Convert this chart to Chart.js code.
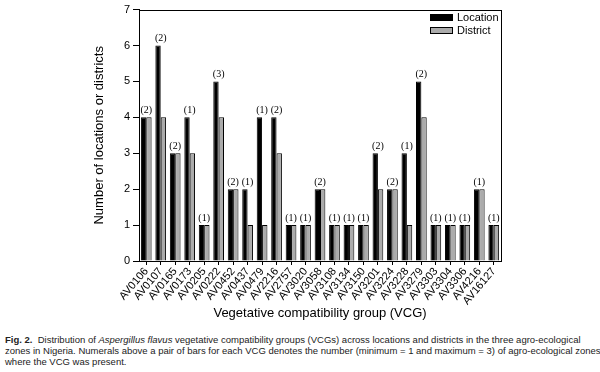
<!DOCTYPE html>
<html>
<head>
<meta charset="utf-8">
<script src="https://cdn.jsdelivr.net/npm/chart.js@4"></script>
<style>
  html, body { margin:0; padding:0; background:#fff; }
  #wrap { position:relative; width:600px; height:372px; overflow:hidden; }
  #c { position:absolute; left:0; top:0; }
  #cap { position:absolute; left:5px; top:334px; font-family:"Liberation Sans", Arial, sans-serif;
         font-size:9.5px; line-height:11px; color:#222; white-space:nowrap; }
  #cap span { display:block; white-space:nowrap; }
</style>
</head>
<body>
<div id="wrap">
  <canvas id="c" width="600" height="325"></canvas>
  <div id="cap"><span><b>Fig. 2.</b>&nbsp; Distribution of <i>Aspergillus flavus</i> vegetative compatibility groups (VCGs) across locations and districts in the three agro-ecological</span><span>zones in Nigeria. Numerals above a pair of bars for each VCG denotes the number (minimum = 1 and maximum = 3) of agro-ecological zones</span><span>where the VCG was present.</span></div>
</div>
<script>
const vcgLabels = ["AV0106","AV0107","AV0165","AV0173","AV0205","AV0222","AV0452","AV0437","AV0479","AV2216",
                   "AV2757","AV3020","AV3058","AV3108","AV3134","AV3150","AV3201","AV3224","AV3228","AV3279",
                   "AV3303","AV3304","AV3306","AV4216","AV16127"];
const locationCounts = [4,6,3,4,1,5,2,2,4,4, 1,1,2,1,1,1,3,2,3,5, 1,1,1,2,1];
const districtCounts = [4,4,3,3,1,4,2,1,1,3, 1,1,2,1,1,1,2,2,1,4, 1,1,1,2,1];
const zoneCounts     = [2,2,2,1,1,3,2,1,1,2, 1,1,2,1,1,1,2,2,1,2, 1,1,1,1,1];
const yTicks = [0,1,2,3,4,5,6,7];

const sans = '"Liberation Sans", Arial, sans-serif';

const overlay = {
  id: 'overlay',
  afterDatasetsDraw(chart) {
    const ctx = chart.ctx;
    const a = chart.chartArea;
    ctx.save();
    // frame
    ctx.strokeStyle = '#000';
    ctx.lineWidth = 1;
    ctx.strokeRect(Math.round(a.left) + 0.5, Math.round(a.top) + 0.5, Math.round(a.right - a.left), Math.round(a.bottom - a.top));
    // zone counts
    const m0 = chart.getDatasetMeta(0), m1 = chart.getDatasetMeta(1);
    ctx.fillStyle = '#000';
    ctx.font = '10px "Liberation Serif", "Times New Roman", serif';
    ctx.textAlign = 'center';
    ctx.textBaseline = 'bottom';
    zoneCounts.forEach((z, i) => {
      const b0 = m0.data[i], b1 = m1.data[i];
      const x = (b0.x + b1.x) / 2;
      const y = Math.min(b0.y, b1.y) - 2;
      ctx.fillText('(' + z + ')', x, y);
    });
    // legend
    const ds = chart.data.datasets;
    ctx.font = '11px ' + sans;
    ctx.textAlign = 'left';
    ctx.textBaseline = 'middle';
    ds.forEach((d, k) => {
      const y = 14 + k * 13;
      ctx.fillStyle = d.backgroundColor;
      ctx.fillRect(430, y, 23, 7);
      ctx.strokeStyle = '#000';
      ctx.strokeRect(430.5, y + 0.5, 22, 6);
      ctx.fillStyle = '#000';
      ctx.fillText(d.label, 457, y + 4);
    });
    ctx.restore();
  }
};

new Chart(document.getElementById('c'), {
  type: 'bar',
  data: {
    labels: vcgLabels,
    datasets: [
      { label: 'Location', data: locationCounts, backgroundColor: '#000000', borderColor: '#000000', borderWidth: 1,
        categoryPercentage: 0.74, barPercentage: 1.0 },
      { label: 'District', data: districtCounts, backgroundColor: '#ababab', borderColor: '#000000', borderWidth: 1,
        categoryPercentage: 0.74, barPercentage: 1.0 }
    ]
  },
  options: {
    responsive: false,
    animation: false,
    devicePixelRatio: 1,
    layout: { padding: { left: 88, right: 99, top: 8, bottom: 0 } },
    plugins: { legend: { display: false }, tooltip: { enabled: false } },
    scales: {
      x: {
        grid: { drawOnChartArea: false, offset: false, tickLength: 4, color: '#000' },
        border: { color: '#000' },
        ticks: { minRotation: 50, maxRotation: 50, autoSkip: false, padding: 0, color: '#000',
                 font: { family: sans, size: 11 } },
        title: { display: true, text: 'Vegetative compatibility group (VCG)', color: '#000',
                 font: { family: sans, size: 13 }, padding: { top: 0, bottom: 4 } },
        afterFit(s) { s.height = 64; }
      },
      y: {
        min: 0, max: 7,
        afterBuildTicks(s) { s.ticks = yTicks.map(v => ({ value: v })); },
        grid: { drawOnChartArea: false, tickLength: 6, color: '#000' },
        border: { color: '#000' },
        ticks: { padding: 3, color: '#000', font: { family: sans, size: 11 } },
        title: { display: true, text: 'Number of locations or districts', color: '#000',
                 font: { family: sans, size: 13 }, padding: { top: 4, bottom: 0 } },
        afterFit(s) { s.width = 51; }
      }
    }
  },
  plugins: [overlay]
});
</script>
</body>
</html>
